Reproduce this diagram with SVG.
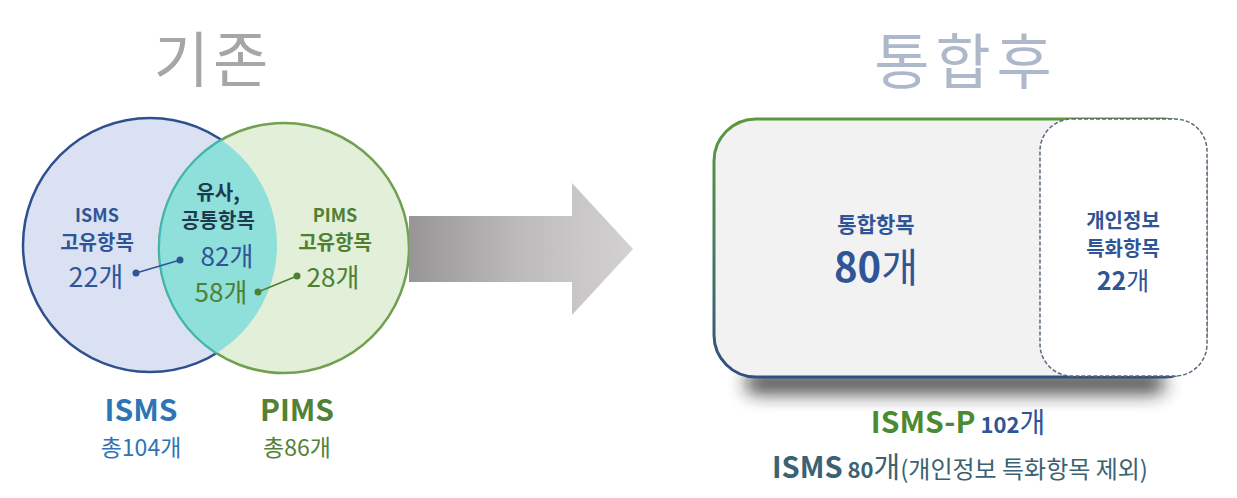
<svg xmlns="http://www.w3.org/2000/svg" width="1237" height="498" viewBox="0 0 1237 498">
<defs>
<style>
text{font-family:"Noto Sans CJK KR","Noto Sans",sans-serif;text-anchor:middle}
.b{font-weight:700}
.blue{fill:#2f5597}
.green{fill:#4f8030}
.title{font-size:60px;font-weight:400}
</style>
<linearGradient id="arrowG" x1="0" y1="0" x2="1" y2="0">
<stop offset="0" stop-color="#989597"/>
<stop offset="0.5" stop-color="#bdbbbc"/>
<stop offset="1" stop-color="#d3d1d2"/>
</linearGradient>
<linearGradient id="boxG" x1="0" y1="0" x2="0" y2="1">
<stop offset="0" stop-color="#5b9a3a"/>
<stop offset="0.5" stop-color="#4a7a60"/>
<stop offset="1" stop-color="#2f4f80"/>
</linearGradient>
<clipPath id="isClip"><circle cx="150" cy="245" r="127"/></clipPath>
<filter id="sh" x="-20%" y="-100%" width="140%" height="300%"><feGaussianBlur stdDeviation="9"/></filter>
</defs>

<text class="title" x="213" y="82" fill="#a6a6a6" letter-spacing="4">기존</text>
<text class="title" x="966" y="84" fill="#adb9ca" letter-spacing="6">통합후</text>

<g id="isms-circle">
<circle cx="150" cy="245" r="127" fill="#d9e1f2" stroke="#2f4f8f" stroke-width="2.5"/>
</g>
<g id="pims-circle">
<circle cx="284" cy="248" r="125" fill="#e2efd9" stroke="#70a050" stroke-width="2.5"/>
</g>
<g id="common">
<circle cx="284" cy="248" r="125" fill="#8fe0db" stroke="#3cb8b8" stroke-width="2" clip-path="url(#isClip)"/>
</g>

<g id="isms-unique">
<text class="b blue" x="97" y="222" font-size="18">ISMS</text>
<text class="b blue" x="97" y="250" font-size="20">고유항목</text>
<text class="blue" x="96" y="287" font-size="27">22개</text>
</g>
<g id="common-text">
<text class="b" x="218" y="200" font-size="20" fill="#1f3a50">유사,</text>
<text class="b" x="218" y="228" font-size="20" fill="#1f3a50">공통항목</text>
<text class="blue" x="227" y="266" font-size="26">82개</text>
<text class="green" x="221" y="302" font-size="26">58개</text>
</g>
<g id="pims-unique">
<text class="b green" x="335" y="222" font-size="18">PIMS</text>
<text class="b green" x="335" y="250" font-size="20">고유항목</text>
<text class="green" x="333" y="287" font-size="26">28개</text>
</g>

<g id="connectors">
<line x1="136" y1="273" x2="180" y2="260" stroke="#2f5597" stroke-width="1.5"/>
<circle cx="136" cy="273" r="3.5" fill="#2f5597"/>
<circle cx="180" cy="260" r="3.5" fill="#2f5597"/>
<line x1="258" y1="292" x2="297" y2="276" stroke="#4f8030" stroke-width="1.5"/>
<circle cx="258" cy="292" r="3.5" fill="#4f8030"/>
<circle cx="297" cy="276" r="3.5" fill="#4f8030"/>
<path d="M409,216 L572,216 L572,183 L633,249 L572,315 L572,282 L409,282 Z" fill="url(#arrowG)"/>
</g>

<g id="isms-total">
<text class="b" x="141" y="421" font-size="30" fill="#2e75b6">ISMS</text>
<text x="141" y="456" font-size="23" fill="#2e75b6">총104개</text>
</g>
<g id="pims-total">
<text class="b" x="297" y="421" font-size="30" fill="#538135">PIMS</text>
<text x="297" y="456" font-size="23" fill="#538135">총86개</text>
</g>

<g id="merged-box">
<rect x="745" y="372" width="420" height="22" rx="11" fill="#222" opacity="0.8" filter="url(#sh)"/>
<rect x="714" y="119" width="492" height="258" rx="42" fill="#f2f2f2" stroke="url(#boxG)" stroke-width="3"/>
<text class="b blue" x="876" y="232" font-size="21">통합항목</text>
<text class="blue" x="876" y="282" font-size="40"><tspan font-weight="700">80</tspan>개</text>
</g>
<g id="privacy-box">
<rect x="1040" y="119" width="167" height="257" rx="32" fill="#ffffff" stroke="#5a6a7a" stroke-width="1.5" stroke-dasharray="4 2"/>
<text class="b blue" x="1123" y="228" font-size="20">개인정보</text>
<text class="b blue" x="1123" y="256" font-size="20">특화항목</text>
<text class="blue" x="1123" y="290" font-size="25"><tspan font-weight="700">22</tspan>개</text>
</g>

<g id="summary">
<text x="958" y="433"><tspan class="b" font-size="30" fill="#4a8a30">ISMS-P</tspan><tspan class="b blue" font-size="22"> 102</tspan><tspan class="blue" font-size="28">개</tspan></text>
<text x="960" y="478" fill="#3a6272"><tspan class="b" font-size="29">ISMS</tspan><tspan class="b" font-size="22"> 80</tspan><tspan font-size="29">개</tspan><tspan font-size="24">(개인정보 특화항목 제외)</tspan></text>
</g>
</svg>
